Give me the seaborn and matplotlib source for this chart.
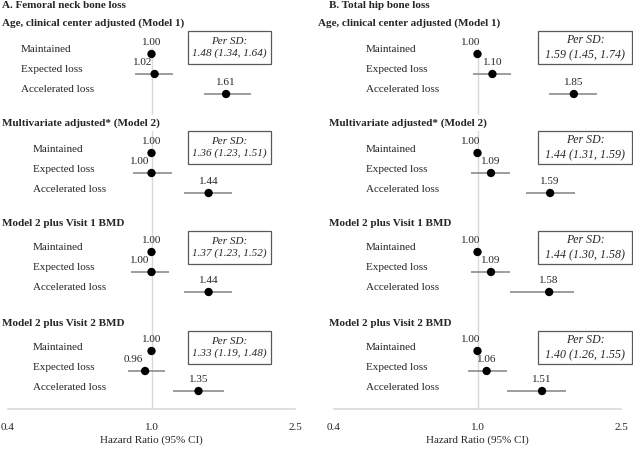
import numpy as np
import pandas as pd
import matplotlib.pyplot as plt
import seaborn as sns
from matplotlib.patches import Rectangle
from matplotlib.ticker import NullLocator, FixedLocator, FixedFormatter

nan = np.nan

categories = ["Maintained", "Expected loss", "Accelerated loss"]
models = [
    "Age, clinical center adjusted (Model 1)",
    "Multivariate adjusted* (Model 2)",
    "Model 2 plus Visit 1 BMD",
    "Model 2 plus Visit 2 BMD",
]

# A. femoral neck
fn_hr = [[1.00, 1.02, 1.61], [1.00, 1.00, 1.44], [1.00, 1.00, 1.44], [1.00, 0.96, 1.35]]
fn_lo = [[nan, 0.90, 1.40], [nan, 0.89, 1.23], [nan, 0.88, 1.23], [nan, 0.86, 1.15]]
fn_hi = [[nan, 1.15, 1.89], [nan, 1.14, 1.67], [nan, 1.12, 1.67], [nan, 1.09, 1.59]]
fn_per_sd = ["1.48 (1.34, 1.64)", "1.36 (1.23, 1.51)", "1.37 (1.23, 1.52)", "1.33 (1.19, 1.48)"]

# B. total hip
th_hr = [[1.00, 1.10, 1.85], [1.00, 1.09, 1.59], [1.00, 1.09, 1.58], [1.00, 1.06, 1.51]]
th_lo = [[nan, 0.97, 1.58], [nan, 0.96, 1.36], [nan, 0.96, 1.23], [nan, 0.94, 1.21]]
th_hi = [[nan, 1.24, 2.14], [nan, 1.23, 1.86], [nan, 1.23, 1.85], [nan, 1.21, 1.76]]
th_per_sd = ["1.59 (1.45, 1.74)", "1.44 (1.31, 1.59)", "1.44 (1.30, 1.58)", "1.40 (1.26, 1.55)"]

x_ticks = [0.4, 1.0, 2.5]
x_ticklabels = ["0.4", "1.0", "2.5"]

sns.set_theme(style="white")
plt.rcParams["font.family"] = ["Liberation Serif", "DejaVu Serif"]
FS = 8

W, H = 633, 450
fig = plt.figure(figsize=(W / 100, H / 100), dpi=100)

panels = [
    dict(title="A. Femoral neck bone loss", title_x=2, ax_left=8, hr=fn_hr, lo=fn_lo, hi=fn_hi,
         per_sd=fn_per_sd, sec_x=[2, 2, 2, 2], lab_x=[21, 33, 33, 33],
         box_x0=188, box_w=83, box_fs=8, dx=[0, -12, 0]),
    dict(title="B. Total hip bone loss", title_x=329, ax_left=334, hr=th_hr, lo=th_lo, hi=th_hi,
         per_sd=th_per_sd, sec_x=[318, 329, 329, 329], lab_x=[366, 366, 366, 366],
         box_x0=538, box_w=94, box_fs=8.6, dx=[-7, 0, 0]),
]

axis_y = 409

for p in panels:
    ax = fig.add_axes([p["ax_left"] / W, 0, 287 / W, 1])
    ax.set_facecolor("none")
    ax.set_xscale("log")

    rows = []
    for k in range(len(models)):
        for j, cat in enumerate(categories):
            rows.append(dict(model=k, cat=cat, hr=p["hr"][k][j], lo=p["lo"][k][j],
                             hi=p["hi"][k][j], y=54 + 99 * k + 20 * j, j=j))
    df = pd.DataFrame(rows)

    ax.vlines(1.0, 48, axis_y, color="#d9d9d9", lw=1, zorder=1)
    ci = df.dropna(subset=["lo"])
    ax.hlines(ci["y"], ci["lo"], ci["hi"], color="#8c8c8c", lw=1.2, zorder=2)
    sns.scatterplot(data=df, x="hr", y="y", color="black", s=36, edgecolor="none",
                    zorder=3, ax=ax, legend=False)
    for _, r in df.iterrows():
        ax.annotate(f"{r['hr']:.2f}", (r["hr"], r["y"]), xytext=(p["dx"][r["j"]] * 0.72, 8.3),
                    textcoords="offset points", ha="center", va="center", fontsize=FS)

    ax.set_xlim(0.4, 2.5)
    ax.set_ylim(H, 0)
    ax.xaxis.set_major_locator(FixedLocator(x_ticks))
    ax.xaxis.set_major_formatter(FixedFormatter(x_ticklabels))
    ax.xaxis.set_minor_locator(NullLocator())
    ax.set_yticks([])
    ax.tick_params(axis="x", length=0, pad=10, labelsize=FS)
    for s in ["left", "right", "top"]:
        ax.spines[s].set_visible(False)
    ax.spines["bottom"].set_position(("data", axis_y))
    ax.spines["bottom"].set_color("#d9d9d9")
    ax.spines["bottom"].set_linewidth(1.2)
    ax.set_ylabel("")
    ax.set_xlabel("Hazard Ratio (95% CI)", fontsize=FS)
    ax.xaxis.set_label_coords(0.5, 1 - 435 / H)

# overlay axes in pixel coordinates for titles, row labels and boxes
bg = fig.add_axes([0, 0, 1, 1])
bg.set_facecolor("none")
bg.set_xlim(0, W)
bg.set_ylim(H, 0)
bg.axis("off")

for p in panels:
    bg.text(p["title_x"], 5, p["title"], fontsize=FS, fontweight="bold", va="center", ha="left")
    for k, m in enumerate(models):
        ty = 23 + 100 * k
        bg.text(p["sec_x"][k], ty, m, fontsize=FS, fontweight="bold", va="center", ha="left",
                bbox=dict(boxstyle="square,pad=0.3", fc="white", ec="none"))
        for j, cat in enumerate(categories):
            bg.text(p["lab_x"][k], 54 + 99 * k + 20 * j - 4, cat, fontsize=FS, va="center", ha="left")
        by = ty + 8
        bg.add_patch(Rectangle((p["box_x0"], by), p["box_w"], 33, fc="white", ec="#595959", lw=0.9))
        bg.text(p["box_x0"] + p["box_w"] / 2, by + 16.5, "Per SD:\n" + p["per_sd"][k],
                fontsize=p["box_fs"], style="italic", ha="center", va="center", linespacing=1.3)

fig.savefig("out.png", dpi=100)
